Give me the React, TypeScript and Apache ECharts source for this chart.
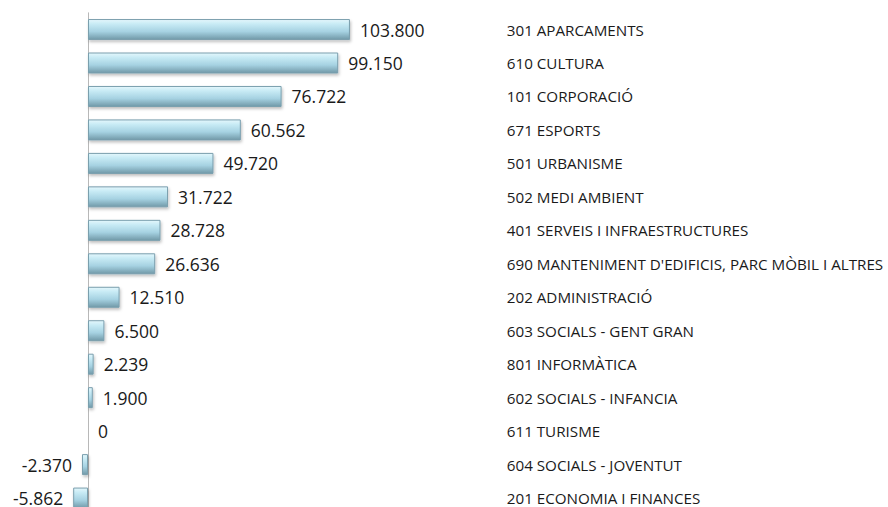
import React, { useEffect, useRef } from "react";
import * as echarts from "echarts";

const categories = [
  "301 APARCAMENTS",
  "610 CULTURA",
  "101 CORPORACIÓ",
  "671 ESPORTS",
  "501 URBANISME",
  "502 MEDI AMBIENT",
  "401 SERVEIS I INFRAESTRUCTURES",
  "690 MANTENIMENT D'EDIFICIS, PARC MÒBIL I ALTRES",
  "202 ADMINISTRACIÓ",
  "603 SOCIALS - GENT GRAN",
  "801 INFORMÀTICA",
  "602 SOCIALS - INFANCIA",
  "611 TURISME",
  "604 SOCIALS - JOVENTUT",
  "201 ECONOMIA I FINANCES",
];

const values = [
  103800, 99150, 76722, 60562, 49720, 31722, 28728, 26636, 12510, 6500, 2239,
  1900, 0, -2370, -5862,
];

function fmt(v: number): string {
  const neg = v < 0;
  const s = String(Math.abs(Math.round(v)));
  const parts: string[] = [];
  for (let i = s.length; i > 0; i -= 3) {
    parts.unshift(s.slice(Math.max(0, i - 3), i));
  }
  return (neg ? "-" : "") + parts.join(".");
}

const FONT = "'Open Sans', sans-serif";

export default function App() {
  const ref = useRef<HTMLDivElement>(null);
  useEffect(() => {
    if (!ref.current) return;
    const chart = echarts.init(ref.current, undefined, { renderer: "svg" });
    const barGrad = new echarts.graphic.LinearGradient(0, 0, 0, 1, [
      { offset: 0, color: "#e4f7fc" },
      { offset: 0.22, color: "#c8ebf5" },
      { offset: 0.6, color: "#a6d2e2" },
      { offset: 1, color: "#7199a8" },
    ]);
    const data = values.map((v) => ({
      value: v,
      itemStyle:
        v === 0
          ? { borderWidth: 0, color: "transparent", shadowBlur: 0, shadowColor: "transparent" }
          : undefined,
      label: {
        position: v < 0 ? "left" : "right",
      },
    }));
    chart.setOption({
      animation: false,
      backgroundColor: "#ffffff",
      grid: {
        left: 62.76,
        width: 429,
        top: 12.8,
        height: 502,
        containLabel: false,
        outerBoundsMode: "none",
      },
      xAxis: {
        type: "value",
        min: -10000,
        max: 160000,
        show: false,
        splitLine: { show: false },
      },
      yAxis: [
        {
          type: "category",
          data: categories,
          inverse: true,
          position: "left",
          axisLine: { show: true, onZero: true, lineStyle: { color: "#b8b8b8", width: 1 } },
          axisTick: { show: false },
          axisLabel: { show: false },
        },
        {
          type: "category",
          data: categories,
          inverse: true,
          position: "right",
          axisLine: { show: false, onZero: false },
          axisTick: { show: false },
          axisLabel: {
            show: true,
            align: "left",
            margin: 15,
            color: "#1a1a1a",
            fontFamily: FONT,
            fontSize: 15.2,
            lineHeight: 14,
          },
        },
      ],
      series: [
        {
          type: "bar",
          yAxisIndex: 0,
          data,
          barWidth: 21,
          itemStyle: {
            color: barGrad,
            borderColor: "#7a9fae",
            borderWidth: 1,
            shadowColor: "rgba(0,0,0,0.25)",
            shadowBlur: 3,
            shadowOffsetX: 1,
            shadowOffsetY: 2,
          },
          label: {
            show: true,
            distance: 10,
            color: "#1a1a1a",
            fontFamily: FONT,
            fontSize: 17.5,
            lineHeight: 14,
            formatter: (p: any) => fmt(p.value),
          },
        },
      ],
    });
    return () => chart.dispose();
  }, []);
  return (
    <div
      ref={ref}
      style={{ position: "fixed", left: 0, top: 0, width: 888, height: 507 }}
    />
  );
}
